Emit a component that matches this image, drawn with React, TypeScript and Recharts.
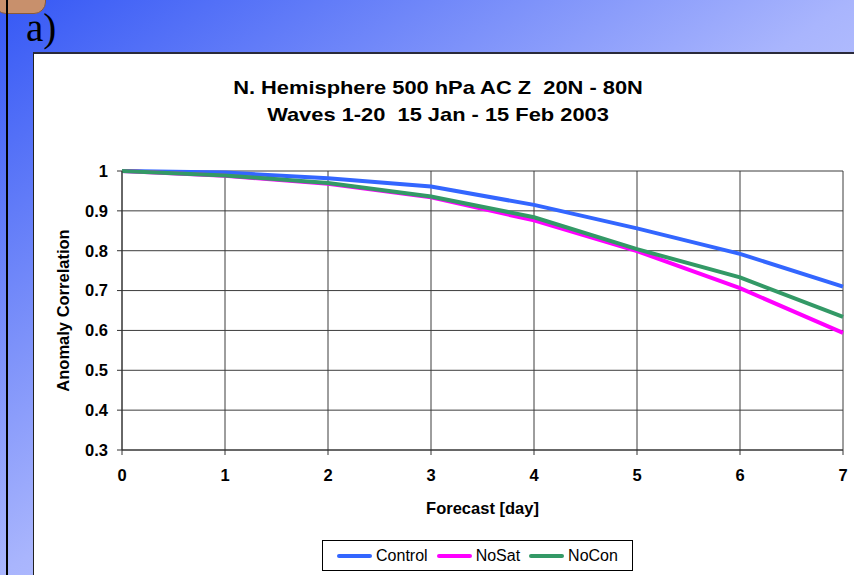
import React from 'react'
import { LineChart, Line, XAxis, YAxis, CartesianGrid } from 'recharts'

// forecast day and anomaly correlation per run
const days = [0, 1, 2, 3, 4, 5, 6, 7]
const control = [1.0, 0.996, 0.982, 0.961, 0.915, 0.856, 0.792, 0.71]
const noSat = [1.0, 0.988, 0.968, 0.934, 0.876, 0.799, 0.706, 0.594]
const noCon = [1.0, 0.989, 0.97, 0.936, 0.884, 0.804, 0.733, 0.634]

const yTicks = [0.3, 0.4, 0.5, 0.6, 0.7, 0.8, 0.9, 1]
const titleLines = ['N. Hemisphere 500 hPa AC Z  20N - 80N', 'Waves 1-20  15 Jan - 15 Feb 2003']

const series = [
  { key: 'control', name: 'Control', color: '#3366ff' },
  { key: 'noSat', name: 'NoSat', color: '#ff00ff' },
  { key: 'noCon', name: 'NoCon', color: '#339966' }
]

const chartData = days.map((d, i) => ({
  day: d,
  control: control[i],
  noSat: noSat[i],
  noCon: noCon[i]
}))

const font = '"Liberation Sans", Arial, sans-serif'

export default function App() {
  return (
    <div
      style={{
        position: 'fixed',
        left: 0,
        top: 0,
        width: 854,
        height: 575,
        overflow: 'hidden',
        fontFamily: font,
        background: 'linear-gradient(to bottom right, #3558f5 0%, #a9b5fd 50%, #e4e8ff 100%)'
      }}
    >
      <div
        style={{
          position: 'absolute',
          left: -6,
          top: -12,
          width: 50,
          height: 24,
          background: '#c8906c',
          border: '1px solid #8a5a3a',
          borderRadius: '0 0 12px 12px'
        }}
      />
      <div style={{ position: 'absolute', left: 6, top: 0, width: 2, height: 575, background: '#000' }} />
      <div
        style={{
          position: 'absolute',
          left: 26,
          top: 6,
          fontFamily: '"Liberation Serif", "Times New Roman", serif',
          fontSize: 39,
          lineHeight: '44px',
          color: '#000'
        }}
      >
        a)
      </div>
      <div
        style={{
          position: 'absolute',
          left: 33,
          top: 52,
          width: 840,
          height: 540,
          background: '#fff',
          borderTop: '2px solid #2a2a3a',
          borderLeft: '1px solid #222'
        }}
      />
      {titleLines.map((t, i) => (
        <div
          key={t}
          style={{
            position: 'absolute',
            left: 238,
            width: 400,
            top: 76 + i * 27,
            textAlign: 'center',
            fontSize: 19,
            fontWeight: 'bold',
            lineHeight: '24px',
            whiteSpace: 'pre',
            transform: 'scaleX(1.15)',
            color: '#000'
          }}
        >
          {t}
        </div>
      ))}

      <div style={{ position: 'absolute', left: 33, top: 53 }}>
        <LineChart width={821} height={522} data={chartData} margin={{ top: 118, right: 11, left: 29, bottom: 85 }}>
          <CartesianGrid stroke="#3c3c3c" strokeWidth={1} />
          <XAxis
            dataKey="day"
            type="number"
            domain={[0, 7]}
            ticks={days}
            height={40}
            tickSize={5}
            tickMargin={14}
            stroke="#333"
            tick={{ fill: '#000', fontSize: 16.5, fontWeight: 'bold', fontFamily: font }}
            label={{
              content: ({ viewBox }: any) => (
                <text
                  x={viewBox.x + viewBox.width / 2}
                  y={viewBox.y + 64}
                  textAnchor="middle"
                  fontSize={16.5}
                  fontWeight="bold"
                  fontFamily={font}
                  fill="#000"
                >
                  Forecast [day]
                </text>
              )
            }}
          />
          <YAxis
            type="number"
            domain={[0.3, 1]}
            ticks={yTicks}
            width={60}
            tickSize={5}
            tickMargin={9}
            stroke="#333"
            tickFormatter={(v: number) => String(Number(v.toFixed(1)))}
            tick={{ fill: '#000', fontSize: 16.5, fontWeight: 'bold', fontFamily: font }}
            label={{
              content: ({ viewBox }: any) => {
                const cx = viewBox.x + 7
                const cy = viewBox.y + viewBox.height / 2
                return (
                  <text
                    x={cx}
                    y={cy}
                    transform={`rotate(-90, ${cx}, ${cy})`}
                    textAnchor="middle"
                    fontSize={16.5}
                    fontWeight="bold"
                    fontFamily={font}
                    fill="#000"
                  >
                    Anomaly Correlation
                  </text>
                )
              }
            }}
          />
          {series.map((s) => (
            <Line
              key={s.key}
              type="linear"
              dataKey={s.key}
              name={s.name}
              stroke={s.color}
              strokeWidth={4}
              dot={false}
              activeDot={false}
              isAnimationActive={false}
            />
          ))}
        </LineChart>
      </div>

      <div
        style={{
          position: 'absolute',
          left: 322,
          top: 540,
          width: 311,
          height: 31,
          boxSizing: 'border-box',
          border: '1px solid #000',
          background: '#fff',
          display: 'flex',
          alignItems: 'center',
          justifyContent: 'center',
          gap: 9
        }}
      >
        {series.map((s) => (
          <div key={s.key} style={{ display: 'flex', alignItems: 'center', gap: 4 }}>
            <div style={{ width: 35, height: 4, borderRadius: 2, background: s.color }} />
            <span style={{ fontSize: 16, color: '#000' }}>{s.name}</span>
          </div>
        ))}
      </div>
    </div>
  )
}
